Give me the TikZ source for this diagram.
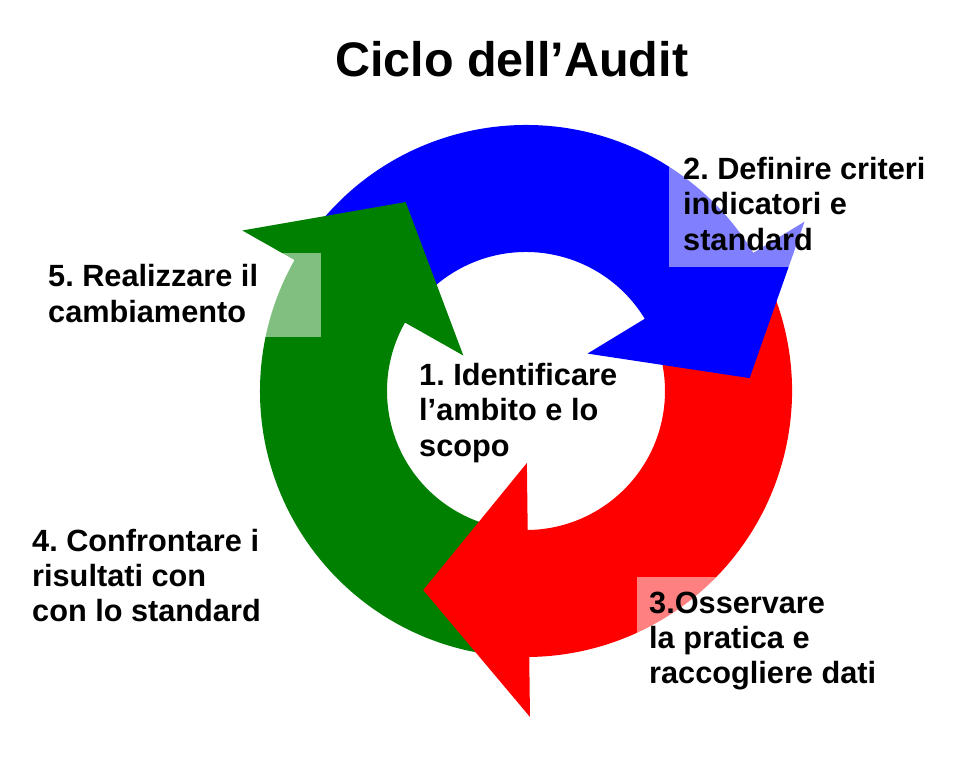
\documentclass[tikz,border=0pt]{standalone}
\usepackage{fontspec}
\setmainfont{Liberation Sans}
\definecolor{ringblue}{RGB}{0,0,255}
\definecolor{ringred}{RGB}{255,0,0}
\definecolor{ringgreen}{RGB}{0,128,0}
\frenchspacing
\begin{document}
\begin{tikzpicture}[x=1pt,y=-1pt,
  lbl/.style={anchor=base west, inner sep=0pt, font=\bfseries\fontsize{30.7}{35.5}\selectfont},
  ttl/.style={anchor=base west, inner sep=0pt, font=\bfseries\fontsize{48.5}{56}\selectfont},
  veil/.style={fill=white, fill opacity=0.5, draw=none}]
\useasboundingbox (0,0) rectangle (964,765);
\fill[white] (0,0) rectangle (964,765);

\begin{scope}[shift={(526,391)}, y=1pt]
  % bands (each runs a little way under its own head)
  \fill[ringblue] (145:139) -- (145:266) arc[start angle=145, end angle=29.5, radius=266]
     -- (29.5:139) arc[start angle=29.5, end angle=145, radius=139] -- cycle;
  \fill[ringred] (25:139) -- (25:266) arc[start angle=25, end angle=-91.1, radius=266]
     -- (-91.1:139) arc[start angle=-91.1, end angle=25, radius=139] -- cycle;
  \fill[ringgreen] (265:139) -- (265:266) arc[start angle=265, end angle=148.7, radius=266]
     -- (148.7:139) arc[start angle=148.7, end angle=265, radius=139] -- cycle;
  % heads
  \fill[ringblue] (31.3:72) -- (31.3:326) -- (3.3:224) -- cycle;
  \fill[ringred] (-89.3:72) -- (-89.3:326) -- (-117.3:224) -- cycle;
  \fill[ringgreen] (150.5:72) -- (150.5:326) -- (122.5:224) -- cycle;
\end{scope}

% translucent label backgrounds
\fill[veil] (669,150) rectangle (935,267);
\fill[veil] (40,253) rectangle (321,337);
\fill[veil] (637,577) rectangle (885,700);

% title
\node[ttl] (title) at (335,77) {Ciclo dell’Audit};

% label 1
\node[lbl] (l1a) at (419,385) {1. Identificare};
\node[lbl] (l1b) at (419,420.5) {l’ambito e lo};
\node[lbl] (l1c) at (419,456) {scopo};
% label 2
\node[lbl] (l2a) at (683,179) {2. Definire criteri};
\node[lbl] (l2b) at (683,214.5) {indicatori e};
\node[lbl] (l2c) at (683,250) {standard};
% label 3
\node[lbl] (l3a) at (649,613) {3.Osservare};
\node[lbl] (l3b) at (649,648) {la pratica e};
\node[lbl] (l3c) at (649,683) {raccogliere dati};
% label 4
\node[lbl] (l4a) at (32,551) {4. Confrontare i};
\node[lbl] (l4b) at (32,586) {risultati con};
\node[lbl] (l4c) at (32,621) {con lo standard};
% label 5
\node[lbl] (l5a) at (48,286) {5. Realizzare il};
\node[lbl] (l5b) at (48,322) {cambiamento};
\end{tikzpicture}
\end{document}
